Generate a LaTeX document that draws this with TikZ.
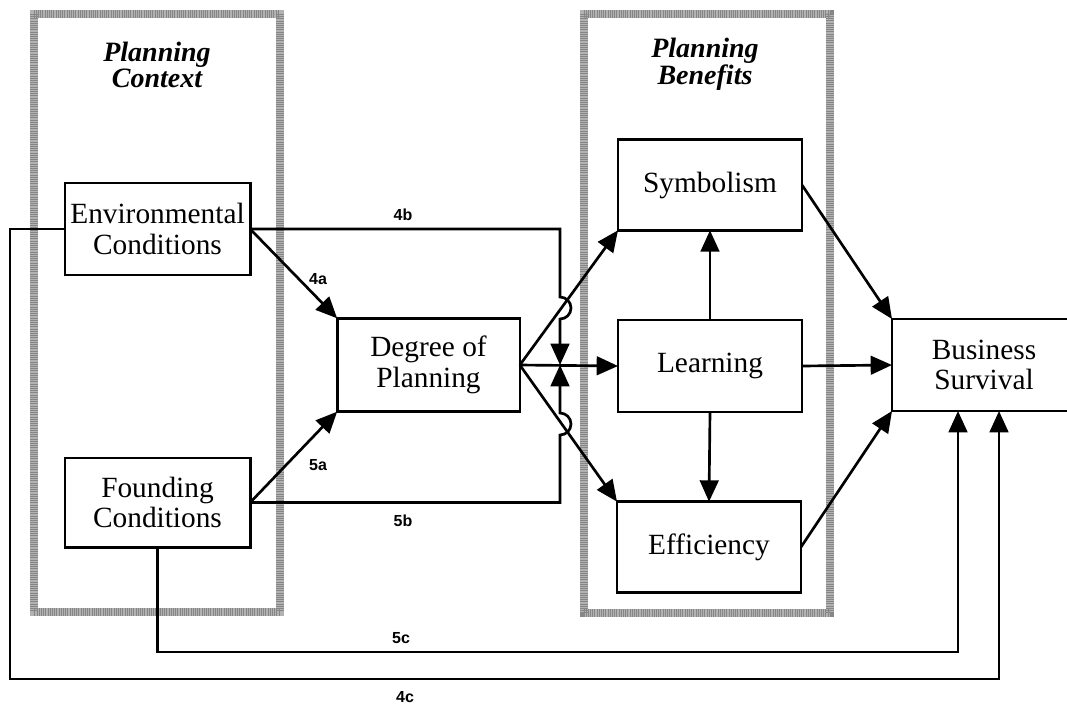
\documentclass[tikz,border=0pt]{standalone}
\usepackage{fontspec}
\setmainfont{Liberation Serif}
\newfontfamily\tagfont{Liberation Sans}
\usetikzlibrary{arrows.meta}

\begin{document}
\begin{tikzpicture}[x=0.75pt, y=-0.75pt, line width=2pt,
  box/.style={draw, line width=2pt, inner sep=0pt, outer sep=0pt, align=center,
    minimum width=138pt, minimum height=68pt, font=\fontsize{22}{23}\selectfont},
  tag/.style={font=\tagfont\bfseries\fontsize{12}{13}\selectfont},
  head/.style={align=center, font=\bfseries\itshape\fontsize{21}{20}\selectfont},
  link/.style={-{Triangle[length=16pt,width=14pt]}},
  bandbase/.style={draw=gray!60, line width=6.5pt},
  bandgrain/.style={draw=gray!95, line width=6.5pt, dash pattern=on 0.75pt off 0.9pt}]
\useasboundingbox (0,0) rectangle (1067,704);

% stippled group frames
\draw[bandbase]  (34,14) rectangle (280,612);
\draw[bandgrain] (34,14) rectangle (280,612);
\draw[bandbase]  (584,14) rectangle (830,613);
\draw[bandgrain] (584,14) rectangle (830,613);

\node[head] (ctx) at (157,65) {Planning\\Context};
\node[head] (ben) at (705,64) {Planning\\Benefits};

% boxes
\node[box, minimum width=139pt, minimum height=69pt] (env) at (157.5,229) {Environmental\\Conditions};
\node[box, minimum width=139pt, minimum height=67pt] (fnd) at (157.5,502.5) {Founding\\Conditions};
\node[box, minimum width=137pt, minimum height=70pt] (deg) at (428.5,365) {Degree of\\Planning};
\node[box] (sym) at (710,185) {Symbolism};
\node[box, minimum height=69pt] (lrn) at (710,366) {Learning};
\node[box] (eff) at (709,547) {Efficiency};
\node[box, draw=none, minimum height=69pt] (bus) at (984,365) {Business\\Survival};
\draw[line width=2pt] (bus.north east) -- (bus.north west) -- (bus.south west) -- (bus.south east);

\coordinate (meet) at (560,365);

% context -> degree of planning
\draw[link] (env.east) -- (deg.north west);
\draw[link] (fnd.east) -- (deg.south west);

% degree of planning -> benefits
\draw[link] (deg.east) -- (sym.south west);
\draw[link] (deg.east) -- (lrn.west);
\draw[link] (deg.east) -- (eff.north west);

% moderating paths 4b and 5b, hopping over the diagonals
\draw[link] (env.east) -| (560,297) arc[start angle=-90, end angle=90, radius=11] -- (meet);
\draw[link] (fnd.east) -| (560,435) arc[start angle=90, end angle=-90, radius=11] -- (meet);

% learning -> other benefits
\draw[link] (lrn.north) -- (sym.south);
\draw[link] (lrn.south) -- (eff.north);

% benefits -> survival
\draw[link] (sym.east) -- (bus.north west);
\draw[link] (lrn.east) -- (bus.west);
\draw[link] (eff.east) -- (bus.south west);

% direct paths 5c and 4c
\draw[link] (fnd.south) |- (958,652) -- (958,0 |- bus.south);
\draw[link] (env.west) -| (10,679) -| (999,0 |- bus.south);

% path labels
\node[tag] (l4b) at (403,215) {4b};
\node[tag] (l4a) at (318,279) {4a};
\node[tag] (l5a) at (318,465) {5a};
\node[tag] (l5b) at (403,521) {5b};
\node[tag] (l5c) at (401,638) {5c};
\node[tag] (l4c) at (405,697) {4c};
\end{tikzpicture}
\end{document}
